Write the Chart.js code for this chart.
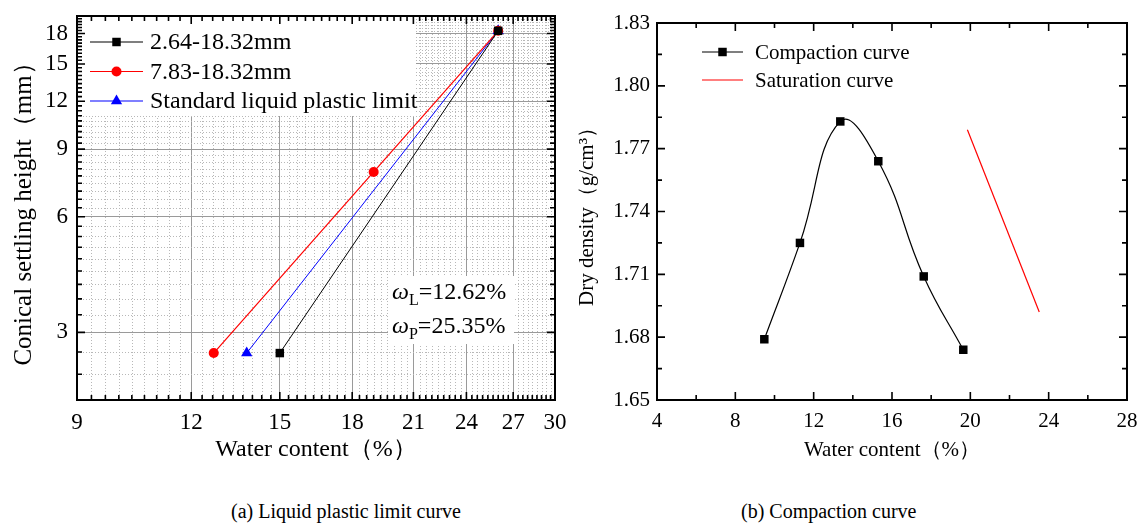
<!DOCTYPE html>
<html>
<head>
<meta charset="utf-8">
<script src="https://cdn.jsdelivr.net/npm/chart.js@4"></script>
<style>
  body { margin: 0; background: #fff; width: 1137px; height: 524px; position: relative; overflow: hidden;
         font-family: "Liberation Serif", "Times New Roman", serif; }
  canvas { position: absolute; top: 0; }
  .cap { position: absolute; top: 500px; font-size: 20px; color: #000; white-space: nowrap; }
</style>
</head>
<body>
<canvas id="limitChart" width="570" height="470" style="left:0"></canvas>
<canvas id="compactChart" width="567" height="470" style="left:570px"></canvas>
<div class="cap" style="left:231px">(a) Liquid plastic limit curve</div>
<div class="cap" style="left:741px">(b) Compaction curve</div>
<script>
// ---- (a) liquid plastic limit data ----
const limitNames = ['2.64-18.32mm', '7.83-18.32mm', 'Standard liquid plastic limit'];
const coarseWater = [15.0, 26.0];
const coarseHeight = [2.65, 18.3];
const fineWater = [12.7, 19.0, 26.0];
const fineHeight = [2.65, 7.85, 18.3];
const stdWater = [13.8, 26.0];
const stdHeight = [2.65, 18.3];
const limitXTicks = [9, 12, 15, 18, 21, 24, 27, 30];
const limitYTicks = [3, 6, 9, 12, 15, 18];

// ---- (b) compaction data ----
const compactNames = ['Compaction curve', 'Saturation curve'];
const compactWater = [9.48, 11.3, 13.36, 15.3, 17.62, 19.64];
const compactDensity = [1.679, 1.725, 1.783, 1.764, 1.709, 1.674];
const satWater = [19.85, 23.52];
const satDensity = [1.779, 1.692];
const compactXTicks = [4, 8, 12, 16, 20, 24, 28];
const compactYTicks = [1.65, 1.68, 1.71, 1.74, 1.77, 1.80, 1.83];

const SERIF = '"Liberation Serif", "Times New Roman", serif';
const pts = (xs, ys) => xs.map((x, i) => ({ x: x, y: ys[i] }));

// minor tick positions (every 1/3 on the log axes, every half step on the linear ones)
const thirds = (lo, hi) => { const out = []; for (let k = lo * 3; k <= hi * 3; k++) out.push(k / 3); return out; };
const steps = (lo, hi, st) => { const out = []; const n = Math.round((hi - lo) / st); for (let k = 0; k <= n; k++) out.push(+(lo + k * st).toFixed(3)); return out; };

// keep the plot box where the axis sizes put it
const fixW = w => s => { s.width = w; s.paddingTop = 0; s.paddingBottom = 0; };
const fixH = h => s => { s.height = h; s.paddingLeft = 0; s.paddingRight = 0; };

function marker(ctx, style, x, y, r, color) {
  ctx.save();
  ctx.fillStyle = color;
  ctx.beginPath();
  if (style === 'circle') {
    ctx.arc(x, y, r, 0, Math.PI * 2);
  } else if (style === 'triangle') {
    ctx.moveTo(x, y - r);
    ctx.lineTo(x + r * 0.866, y + r * 0.5);
    ctx.lineTo(x - r * 0.866, y + r * 0.5);
    ctx.closePath();
  } else {
    const s = r * Math.SQRT1_2;
    ctx.rect(x - s, y - s, 2 * s, 2 * s);
  }
  ctx.fill();
  ctx.restore();
}

// frame, inward ticks, minor grid, legend and notes
const framePlugin = {
  id: 'frame',
  beforeDatasetsDraw(chart, args, o) {
    const ctx = chart.ctx, a = chart.chartArea;
    const xs = chart.scales.x, ys = chart.scales.y;
    ctx.save();
    if (o.minorGrid) {
      ctx.strokeStyle = '#b8b8b8';
      ctx.lineWidth = 1;
      ctx.setLineDash([1, 2]);
      o.minorX.forEach(v => {
        if (o.majorX.includes(v)) return;
        const p = Math.round(xs.getPixelForValue(v)) + 0.5;
        ctx.beginPath(); ctx.moveTo(p, a.top); ctx.lineTo(p, a.bottom); ctx.stroke();
      });
      o.minorY.forEach(v => {
        if (o.majorY.includes(v)) return;
        const p = Math.round(ys.getPixelForValue(v)) + 0.5;
        ctx.beginPath(); ctx.moveTo(a.left, p); ctx.lineTo(a.right, p); ctx.stroke();
      });
      ctx.setLineDash([]);
    }
    const lg = o.legend;
    if (lg) {
      if (lg.box) {
        ctx.fillStyle = '#fff';
        ctx.fillRect(a.left, a.top, lg.box[0], lg.box[1]);
      }
      ctx.font = lg.size + 'px ' + SERIF;
      ctx.textBaseline = 'middle';
      ctx.textAlign = 'left';
      chart.data.datasets.forEach((ds, i) => {
        const y = a.top + lg.top + i * lg.gap;
        const x0 = a.left + lg.left;
        ctx.strokeStyle = ds.borderColor;
        ctx.lineWidth = 1.2;
        ctx.beginPath(); ctx.moveTo(x0, y); ctx.lineTo(x0 + lg.len, y); ctx.stroke();
        if (ds.pointRadius > 0) marker(ctx, ds.pointStyle, x0 + lg.len / 2, y, ds.pointRadius, ds.pointBackgroundColor);
        ctx.fillStyle = '#000';
        ctx.fillText(ds.label, x0 + lg.len + lg.pad, y + 1);
      });
    }
    const nt = o.note;
    if (nt) {
      ctx.fillStyle = '#fff';
      ctx.fillRect(a.left + nt.left - 4, a.top + nt.top - 17, 126, 68);
      ctx.textBaseline = 'middle';
      nt.rows.forEach((r, i) => {
        let x = a.left + nt.left;
        const y = a.top + nt.top + i * 34;
        ctx.fillStyle = '#000';
        ctx.font = 'italic 24px ' + SERIF;
        ctx.fillText('ω', x, y);
        x += ctx.measureText('ω').width;
        ctx.font = '16px ' + SERIF;
        ctx.fillText(r[0], x, y + 8);
        x += ctx.measureText(r[0]).width;
        ctx.font = '24px ' + SERIF;
        ctx.fillText(r[1], x, y);
      });
    }
    ctx.restore();
  },
  afterDraw(chart, args, o) {
    const ctx = chart.ctx, a = chart.chartArea;
    const xs = chart.scales.x, ys = chart.scales.y;
    ctx.save();
    ctx.strokeStyle = '#000';
    ctx.lineWidth = 2;
    ctx.strokeRect(a.left, a.top, a.right - a.left, a.bottom - a.top);
    ctx.lineWidth = 1.6;
    const majX = Array.from(o.majorX), majY = Array.from(o.majorY);
    Array.from(o.minorX).forEach(v => {
      const len = majX.indexOf(v) >= 0 ? 8 : 5;
      const p = xs.getPixelForValue(v);
      ctx.beginPath();
      ctx.moveTo(p, a.bottom); ctx.lineTo(p, a.bottom - len);
      ctx.moveTo(p, a.top); ctx.lineTo(p, a.top + len);
      ctx.stroke();
    });
    Array.from(o.minorY).forEach(v => {
      const len = majY.indexOf(v) >= 0 ? 8 : 5;
      const p = ys.getPixelForValue(v);
      ctx.beginPath();
      ctx.moveTo(a.left, p); ctx.lineTo(a.left + len, p);
      ctx.moveTo(a.right, p); ctx.lineTo(a.right - len, p);
      ctx.stroke();
    });
    ctx.restore();
  }
};

// ---- chart (a) ----
new Chart(document.getElementById('limitChart'), {
  type: 'line',
  data: {
    datasets: [
      { label: limitNames[0], data: pts(coarseWater, coarseHeight), borderColor: '#000', borderWidth: 1,
        pointStyle: 'rect', pointRadius: 6, pointBackgroundColor: '#000', pointBorderWidth: 0 },
      { label: limitNames[1], data: pts(fineWater, fineHeight), borderColor: '#ff0000', borderWidth: 1.2,
        pointStyle: 'circle', pointRadius: 5, pointBackgroundColor: '#ff0000', pointBorderWidth: 0 },
      { label: limitNames[2], data: pts(stdWater, stdHeight), borderColor: '#0000ff', borderWidth: 1,
        pointStyle: 'triangle', pointRadius: 6.5, pointBackgroundColor: '#0000ff', pointBorderWidth: 0 }
    ]
  },
  options: {
    responsive: false,
    animation: false,
    layout: { padding: { left: 0, top: 16, right: 15, bottom: 0 } },
    plugins: {
      legend: { display: false },
      tooltip: { enabled: false },
      frame: {
        minorGrid: true,
        minorX: thirds(9, 30), majorX: limitXTicks,
        minorY: thirds(2, 20), majorY: limitYTicks,
        legend: { top: 26, gap: 29.5, left: 13, len: 53, pad: 7, size: 24, box: [339, 100] },
        note: { left: 315, top: 277, rows: [['L', '=12.62%'], ['P', '=25.35%']] }
      }
    },
    scales: {
      x: {
        type: 'logarithmic', min: 9, max: 30,
        afterBuildTicks: s => { s.ticks = limitXTicks.map(v => ({ value: v })); },
        afterFit: fixH(70),
        grid: { color: '#9a9a9a', lineWidth: 1, drawTicks: false },
        border: { display: false },
        ticks: { autoSkip: false, maxRotation: 0, padding: 9, color: '#000',
                 font: { family: SERIF, size: 23 }, callback: v => v },
        title: { display: true, text: 'Water content（%）', color: '#000',
                 font: { family: SERIF, size: 24 }, padding: { top: 0, bottom: 6 } }
      },
      y: {
        type: 'logarithmic', min: 2, max: 20,
        afterBuildTicks: s => { s.ticks = limitYTicks.map(v => ({ value: v })); },
        afterFit: fixW(77),
        grid: { color: '#9a9a9a', lineWidth: 1, drawTicks: false },
        border: { display: false },
        ticks: { autoSkip: false, padding: 9, color: '#000',
                 font: { family: SERIF, size: 23 }, callback: v => v },
        title: { display: true, text: 'Conical settling height（mm）', color: '#000',
                 font: { family: SERIF, size: 25 }, padding: { top: 9, bottom: 0 } }
      }
    }
  },
  plugins: [framePlugin]
});

// ---- chart (b) ----
new Chart(document.getElementById('compactChart'), {
  type: 'line',
  data: {
    datasets: [
      { label: compactNames[0], data: pts(compactWater, compactDensity), borderColor: '#000', borderWidth: 1.2,
        tension: 0.45, pointStyle: 'rect', pointRadius: 6, pointBackgroundColor: '#000', pointBorderWidth: 0 },
      { label: compactNames[1], data: pts(satWater, satDensity), borderColor: '#ff0000', borderWidth: 1.2,
        pointRadius: 0 }
    ]
  },
  options: {
    responsive: false,
    animation: false,
    layout: { padding: { left: 0, top: 23, right: 10, bottom: 0 } },
    plugins: {
      legend: { display: false },
      tooltip: { enabled: false },
      frame: {
        minorGrid: false,
        minorX: steps(4, 28, 2), majorX: compactXTicks,
        minorY: steps(1.65, 1.83, 0.015), majorY: compactYTicks,
        legend: { top: 29, gap: 28, left: 45, len: 41, pad: 12, size: 21 }
      }
    },
    scales: {
      x: {
        type: 'linear', min: 4, max: 28,
        afterBuildTicks: s => { s.ticks = compactXTicks.map(v => ({ value: v })); },
        afterFit: fixH(70),
        grid: { display: false, drawTicks: false },
        border: { display: false },
        ticks: { autoSkip: false, maxRotation: 0, padding: 9, color: '#000',
                 font: { family: SERIF, size: 21 }, callback: v => v },
        title: { display: true, text: 'Water content（%）', color: '#000',
                 font: { family: SERIF, size: 21 }, padding: { top: 0, bottom: 7 } }
      },
      y: {
        type: 'linear', min: 1.65, max: 1.83,
        afterBuildTicks: s => { s.ticks = compactYTicks.map(v => ({ value: v })); },
        afterFit: fixW(87),
        grid: { display: false, drawTicks: false },
        border: { display: false },
        ticks: { autoSkip: false, padding: 7, color: '#000',
                 font: { family: SERIF, size: 21 }, callback: v => v.toFixed(2) },
        title: { display: true, text: 'Dry density（g/cm³）', color: '#000',
                 font: { family: SERIF, size: 21 }, padding: { top: 5, bottom: 0 } }
      }
    }
  },
  plugins: [framePlugin]
});
</script>
</body>
</html>
